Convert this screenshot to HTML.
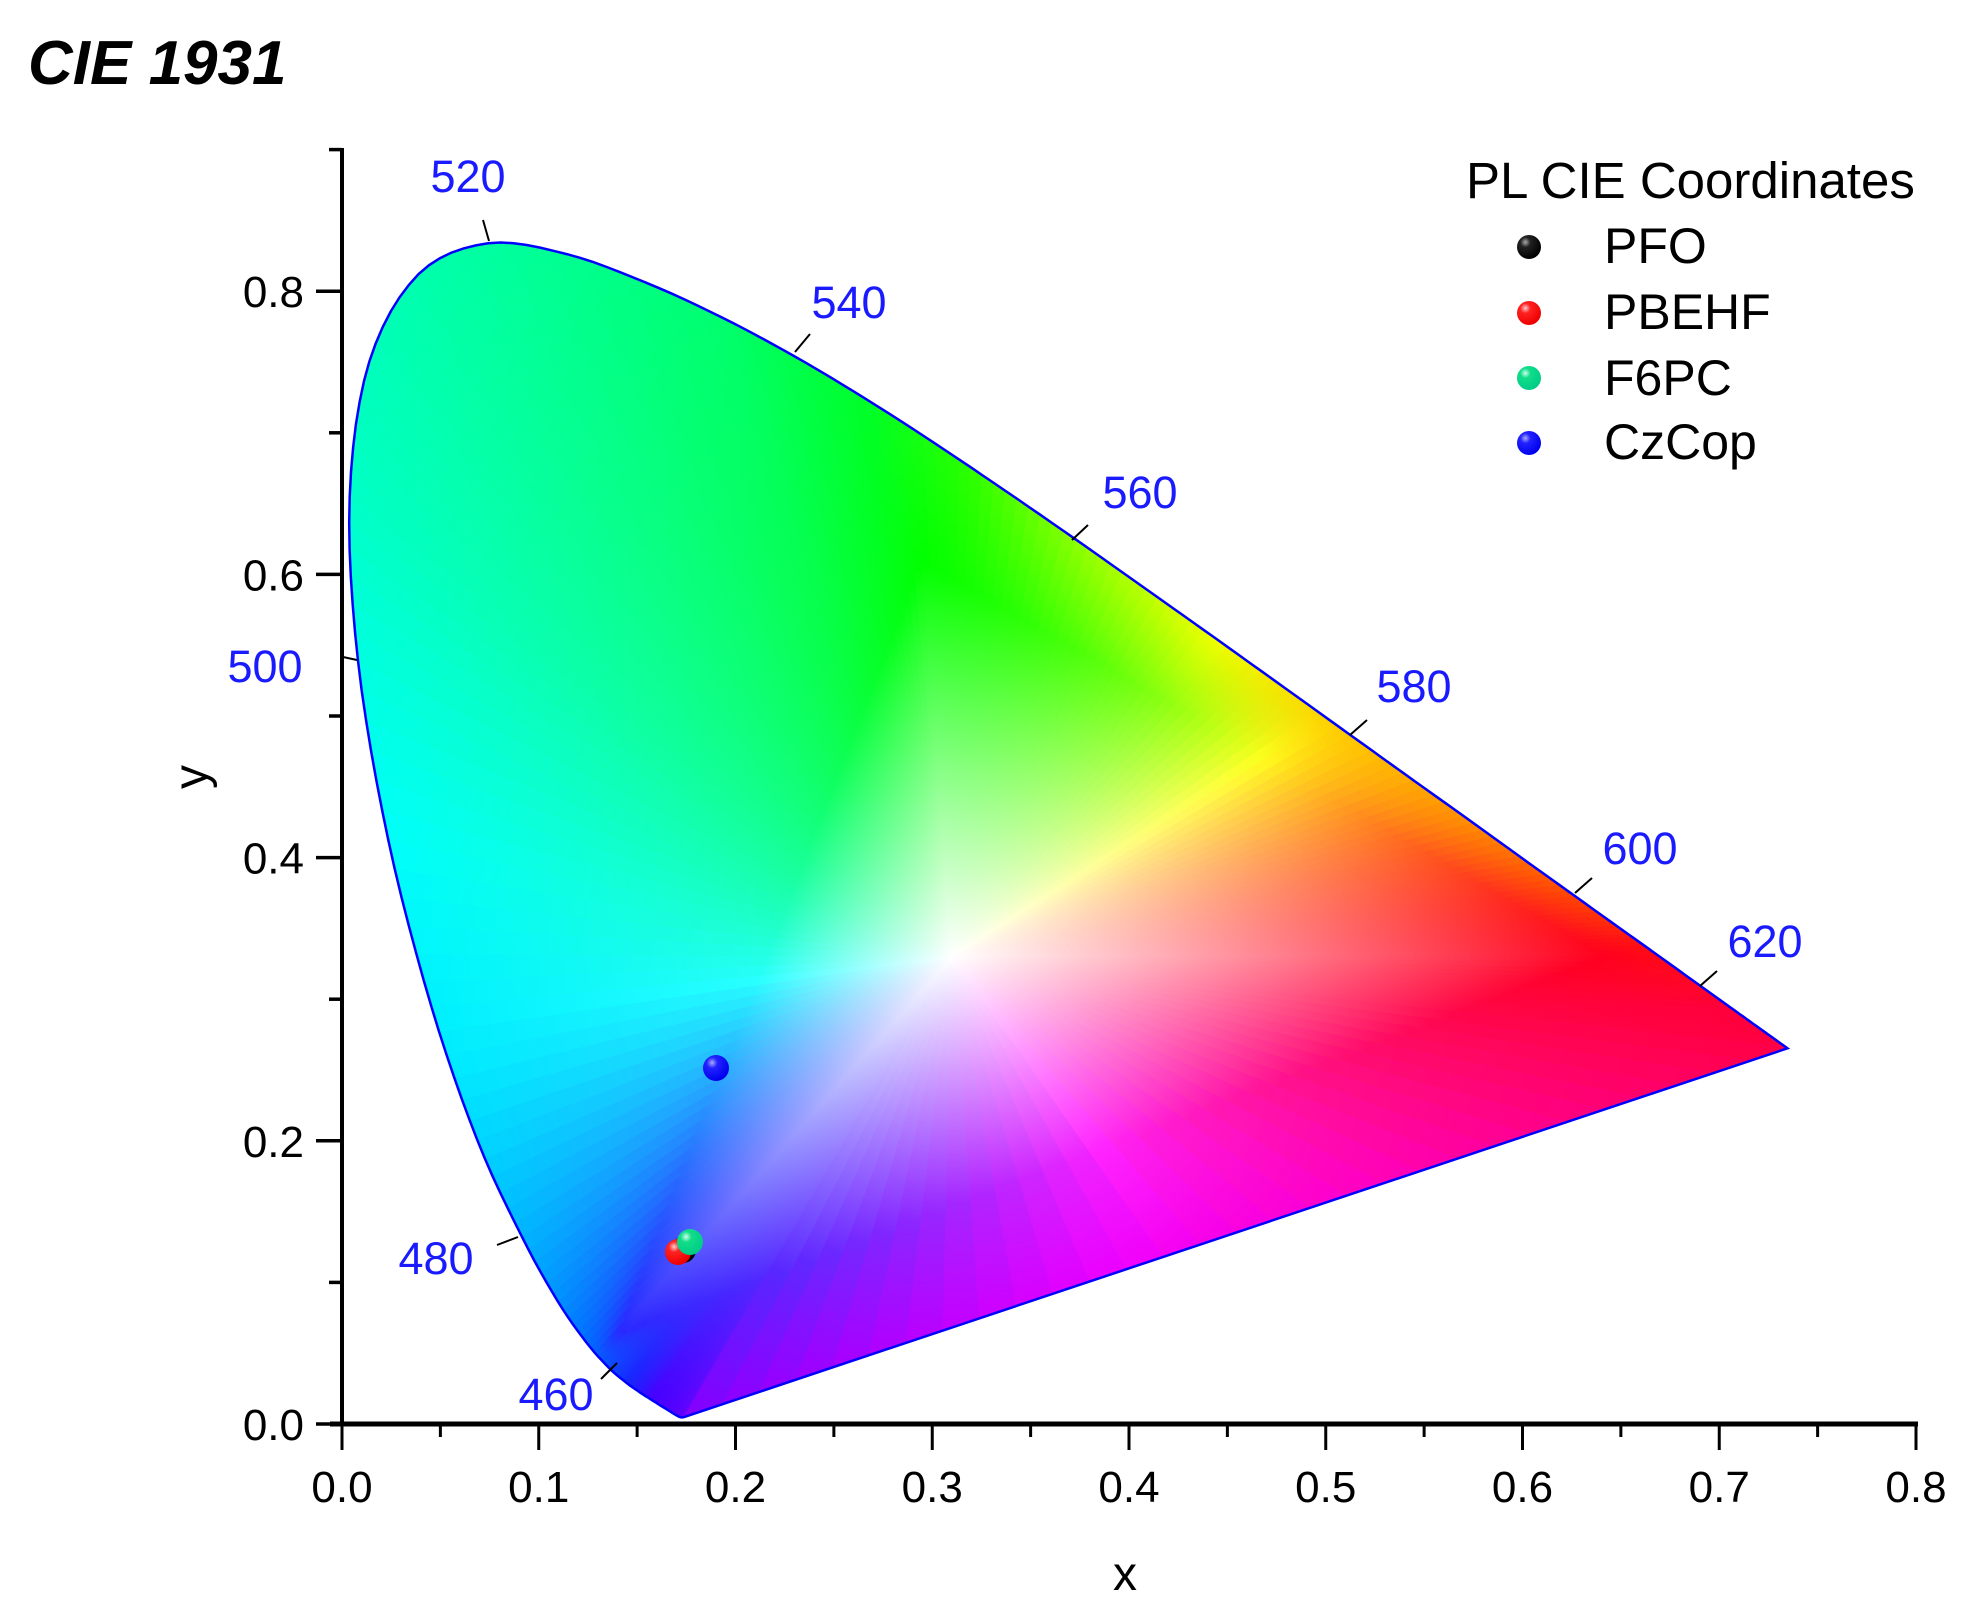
<!DOCTYPE html>
<html><head><meta charset="utf-8"><style>
html,body{margin:0;padding:0;background:#fff;}
svg{display:block;}
text{font-family:"Liberation Sans",Arial,sans-serif;}
</style></head><body>
<svg id="s" width="1982" height="1624" viewBox="0 0 1982 1624" xmlns="http://www.w3.org/2000/svg">
<defs id="d">
<radialGradient id="bk" cx="0.35" cy="0.3" r="0.7"><stop offset="0" stop-color="#aaa"/><stop offset="0.3" stop-color="#222"/><stop offset="1" stop-color="#000"/></radialGradient>
<radialGradient id="rd" cx="0.35" cy="0.3" r="0.7"><stop offset="0" stop-color="#fcc"/><stop offset="0.3" stop-color="#f22"/><stop offset="1" stop-color="#e00"/></radialGradient>
<radialGradient id="gr" cx="0.35" cy="0.3" r="0.7"><stop offset="0" stop-color="#cfe"/><stop offset="0.3" stop-color="#1d8"/><stop offset="1" stop-color="#0c8"/></radialGradient>
<radialGradient id="bl" cx="0.35" cy="0.3" r="0.7"><stop offset="0" stop-color="#aaf"/><stop offset="0.3" stop-color="#22f"/><stop offset="1" stop-color="#00e"/></radialGradient>
</defs>
<g id="fan"></g>
<path id="outline" fill="none" stroke="#0000ff" stroke-width="2.5"/>
<g id="wl" stroke="#000" stroke-width="2"></g>
<g fill="#1a1aff" font-size="45">
<text x="468" y="192" text-anchor="middle">520</text>
<text x="849" y="318" text-anchor="middle">540</text>
<text x="1140" y="508" text-anchor="middle">560</text>
<text x="1414" y="702" text-anchor="middle">580</text>
<text x="1640" y="864" text-anchor="middle">600</text>
<text x="1765" y="957" text-anchor="middle">620</text>
<text x="265" y="682" text-anchor="middle">500</text>
<text x="436" y="1274" text-anchor="middle">480</text>
<text x="556" y="1410" text-anchor="middle">460</text>
</g>
<g id="axes" stroke="#000"></g>
<g id="labs" font-size="44" fill="#000"></g>
<text x="28" y="84" font-size="62" font-weight="bold" font-style="italic">CIE 1931</text>
<text x="1125" y="1590" font-size="48" text-anchor="middle">x</text>
<text transform="translate(207,777) rotate(-90)" font-size="48" text-anchor="middle">y</text>
<text x="1466" y="198" font-size="51">PL CIE Coordinates</text>
<g font-size="50">
<circle cx="1529" cy="247" r="12" fill="url(#bk)"/><text x="1604" y="263">PFO</text>
<circle cx="1529" cy="313" r="12" fill="url(#rd)"/><text x="1604" y="329">PBEHF</text>
<circle cx="1529" cy="378" r="12" fill="url(#gr)"/><text x="1604" y="395">F6PC</text>
<circle cx="1529" cy="443" r="12" fill="url(#bl)"/><text x="1604" y="459">CzCop</text>
</g>
<circle cx="683" cy="1250" r="13" fill="url(#bk)"/>
<circle cx="678" cy="1252" r="13" fill="url(#rd)"/>
<circle cx="690" cy="1242" r="13" fill="url(#gr)"/>
<circle cx="716" cy="1068" r="13" fill="url(#bl)"/>
</svg>
<script>
var NS="http://www.w3.org/2000/svg";
function X(v){return 342+v*1967.5;}function Y(v){return 1424-v*1416;}
var L=[[380,.1741,.0050],[420,.1714,.0051],[440,.1644,.0109],[450,.1566,.0177],[455,.1510,.0227],[460,.1440,.0297],[465,.1355,.0399],[470,.1241,.0578],[475,.1096,.0868],[480,.0913,.1327],[485,.0687,.2007],[490,.0454,.2950],[495,.0235,.4127],[500,.0082,.5384],[505,.0039,.6548],[510,.0139,.7502],[515,.0389,.8120],[520,.0743,.8338],[525,.1142,.8262],[530,.1547,.8059],[535,.1929,.7816],[540,.2296,.7543],[545,.2658,.7243],[550,.3016,.6923],[555,.3373,.6589],[560,.3731,.6245],[565,.4087,.5896],[570,.4441,.5547],[575,.4788,.5202],[580,.5125,.4866],[585,.5448,.4544],[590,.5752,.4242],[595,.6029,.3965],[600,.6270,.3725],[605,.6482,.3514],[610,.6658,.3340],[620,.6915,.3083],[630,.7079,.2920],[640,.7190,.2809],[660,.7300,.2700],[700,.7347,.2653]];
var C=[[380,[128,0,255]],[450,[70,0,255]],[460,[20,40,255]],[470,[0,110,255]],[480,[0,180,255]],[488,[0,235,255]],[495,[0,255,250]],[505,[0,255,200]],[520,[0,255,160]],[535,[0,255,110]],[545,[0,255,40]],[552,[40,255,0]],[560,[140,255,0]],[570,[240,255,0]],[580,[255,200,0]],[590,[255,140,0]],[600,[255,70,0]],[610,[255,10,20]],[630,[255,0,60]],[700,[255,0,70]]];
function colA(w){for(var i=0;i<C.length-1;i++){if(w<=C[i+1][0]){var t=(w-C[i][0])/(C[i+1][0]-C[i][0]);var a=C[i][1],b=C[i+1][1];return a.map(function(v,k){return v+(b[k]-v)*t;});}}return [255,0,70];}
function rgb(a){return "rgb("+a.map(Math.round).join(",")+")";}
var pts=[];var N=L.length,S=6;
for(var i=0;i<N-1;i++){var p0=L[Math.max(i-1,0)],p1=L[i],p2=L[i+1],p3=L[Math.min(i+2,N-1)];
for(var s=0;s<S;s++){var t=s/S,t2=t*t,t3=t2*t;
function cr(k){return 0.5*((2*p1[k])+(-p0[k]+p2[k])*t+(2*p0[k]-5*p1[k]+4*p2[k]-p3[k])*t2+(-p0[k]+3*p1[k]-3*p2[k]+p3[k])*t3);}
pts.push([cr(1),cr(2),colA(p1[0]+(p2[0]-p1[0])*t)]);}}
pts.push([L[N-1][1],L[N-1][2],colA(700)]);
var nLoc=pts.length;
var P=[[255,0,70],[255,0,130],[255,0,200],[240,0,255],[180,0,255],[128,0,255]];
var a=pts[nLoc-1],b=pts[0],M=30;
for(var i=1;i<M;i++){var t=i/M;var f=t*(P.length-1),j=Math.floor(f),u=f-j;var c=P[j].map(function(v,k){return v+(P[Math.min(j+1,P.length-1)][k]-v)*u;});
pts.push([a[0]+(b[0]-a[0])*t,a[1]+(b[1]-a[1])*t,c]);}
var W=[0.31,0.33];
var T=[[0.14,0.064,[40,40,255]],[0.295,0.61,[0,255,0]],[0.642,0.33,[255,0,30]]];
function hit(m){var dx=m[0]-W[0],dy=m[1]-W[1];
for(var e=0;e<3;e++){var A=T[e],B=T[(e+1)%3];var ex=B[0]-A[0],ey=B[1]-A[1];
var den=dx*ey-dy*ex;if(Math.abs(den)<1e-12)continue;
var s=((A[0]-W[0])*ey-(A[1]-W[1])*ex)/den;var u=((A[0]-W[0])*dy-(A[1]-W[1])*dx)/den;
if(s>0&&u>=-0.001&&u<=1.001){var c=A[2].map(function(v,k){return v+(B[2][k]-v)*u;});var mx=Math.max.apply(null,c);c=c.map(function(v){return v*255/mx;});return [s,c];}}
return [0.5,[255,255,255]];}
var fan=document.getElementById("fan"),defs=document.getElementById("d");
for(var i=0;i<pts.length;i++){var p=pts[i],q=pts[(i+1)%pts.length];
var m=[(p[0]+q[0])/2,(p[1]+q[1])/2];var h=hit(m);var tt=Math.min(h[0],1);
var lc=p[2].map(function(v,k){return (v+q[2][k])/2;});
var g=document.createElementNS(NS,"linearGradient");g.setAttribute("id","g"+i);g.setAttribute("gradientUnits","userSpaceOnUse");
g.setAttribute("x1",X(W[0]));g.setAttribute("y1",Y(W[1]));g.setAttribute("x2",X(m[0]));g.setAttribute("y2",Y(m[1]));
var st='<stop offset="0" stop-color="#fff"/>';
if(tt<0.999){st+='<stop offset="'+tt+'" stop-color="'+rgb(h[1])+'"/><stop offset="1" stop-color="'+rgb(lc)+'"/>';}
else st+='<stop offset="1" stop-color="'+rgb(lc)+'"/>';
g.innerHTML=st;defs.appendChild(g);
var pg=document.createElementNS(NS,"polygon");
pg.setAttribute("points",X(W[0])+","+Y(W[1])+" "+X(p[0])+","+Y(p[1])+" "+X(q[0])+","+Y(q[1]));
pg.setAttribute("fill","url(#g"+i+")");pg.setAttribute("stroke","url(#g"+i+")");pg.setAttribute("stroke-width","1.2");
fan.appendChild(pg);}
var d="M"+pts.slice(0,nLoc).map(function(p){return X(p[0]).toFixed(1)+","+Y(p[1]).toFixed(1);}).join("L")+"Z";
document.getElementById("outline").setAttribute("d",d);
var wl=document.getElementById("wl");
[[489,241,483,220],[795,352,810,334],[1072,540,1088,525],[1350,735,1367,720],[1575,893,1592,878],[1700,986,1717,971],[357,660,343,657],[518,1237,497,1245],[601,1379,617,1363]].forEach(function(s){var l=document.createElementNS(NS,"line");l.setAttribute("x1",s[0]);l.setAttribute("y1",s[1]);l.setAttribute("x2",s[2]);l.setAttribute("y2",s[3]);wl.appendChild(l);});
var ax=document.getElementById("axes"),h2="";
h2+='<line x1="342" y1="1426" x2="342" y2="148" stroke-width="4"/>';
h2+='<line x1="330" y1="1424" x2="1918" y2="1424" stroke-width="5"/>';
for(var k=0;k<=16;k++){var v=k*0.05,x=X(v);var len=(k%2==0)?26:13;h2+='<line x1="'+x+'" y1="1424" x2="'+x+'" y2="'+(1424+len)+'" stroke-width="3"/>';}
for(var k=0;k<=9;k++){var y=Y(k*0.1);var len=(k%2==0)?26:13;h2+='<line x1="342" y1="'+y+'" x2="'+(342-len)+'" y2="'+y+'" stroke-width="3.5"/>';}
ax.innerHTML=h2;
var lb=document.getElementById("labs"),t="";
for(var k=0;k<=8;k++){t+='<text x="'+X(k*0.1)+'" y="1502" text-anchor="middle">'+(k/10).toFixed(1)+'</text>';}
for(var k=0;k<=4;k++){t+='<text x="304" y="'+(Y(k*0.2)+16)+'" text-anchor="end">'+(k/5).toFixed(1)+'</text>';}
lb.innerHTML=t;
</script>
</body></html>
